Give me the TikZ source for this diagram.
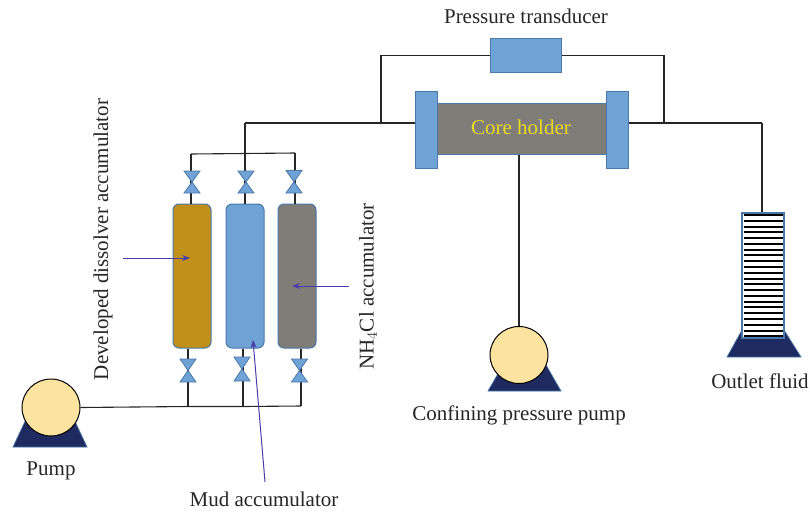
\documentclass[tikz,border=0pt]{standalone}
\usepackage{fontspec}
\setmainfont{Liberation Serif}
\usetikzlibrary{arrows.meta,shapes.geometric}
\definecolor{blockblue}{HTML}{6FA3D6}
\definecolor{blockedge}{HTML}{4A78A8}
\definecolor{oilgold}{HTML}{C0901A}
\definecolor{coregray}{HTML}{807C78}
\definecolor{pumpyellow}{HTML}{FDE3A0}
\definecolor{basenavy}{HTML}{1F2A60}
\definecolor{arrowblue}{HTML}{4B3BA8}
\definecolor{coreyellow}{HTML}{E8DC20}
\tikzset{
  pipe/.style={line width=1.1,color=black!85},
  blueblock/.style={draw=blockedge,fill=blockblue,line width=1,rectangle,inner sep=0},
  tank/.style={blueblock,rounded corners=6,minimum width=38,minimum height=144},
  valvepart/.style={draw=blockedge,fill=blockblue,line width=0.8},
  pumpbody/.style={draw=black,fill=pumpyellow,line width=1,ellipse,inner sep=0,minimum width=58,minimum height=57},
  pumpbase/.style={draw=blockedge,fill=basenavy,line width=0.7},
  pointer/.style={-{Stealth[length=8,width=6]},color=arrowblue,line width=1},
  lbl/.style={font=\fontsize{21}{24}\selectfont,color=black!85,inner sep=0},
}
\newcommand{\valve}[3]{% x, top y, bottom y
  \fill[valvepart] (#1-8,#2)--(#1+8,#2)--(#1-8,#3)--(#1+8,#3)--cycle;
}
\begin{document}
\begin{tikzpicture}[x=1pt,y=-1pt]
\useasboundingbox (0,0) rectangle (810,511);

% pipes first, blocks go on top
\coordinate (J1) at (245,123);
\coordinate (J2) at (381,123);
\coordinate (J3) at (664,123);
\coordinate (J4) at (762,123);
\coordinate (BL) at (191,154);
\coordinate (BM) at (245,153.5);
\coordinate (BR) at (295,153);
\coordinate (LL) at (188,406.5);
\coordinate (LM) at (243,406.5);
\coordinate (LR) at (301,406);

% core holder
\node[blueblock,minimum width=22,minimum height=77] (flangeL) at (426,129.5) {};
\node[blueblock,minimum width=22,minimum height=77] (flangeR) at (617,129.5) {};
\node[blueblock,fill=coregray,minimum width=169,minimum height=51] (core) at (521.5,128.5) {};
\node[lbl,color=coreyellow] (corelabel) at (521,127) {Core holder};

\node[blueblock,minimum width=71,minimum height=33] (transducer) at (525.5,55.5) {};
\node[lbl] (transducerlabel) at (526,16) {Pressure transducer};

\draw[pipe] (transducer.west)-|(J2);
\draw[pipe] (transducer.east)-|(J3);
\draw[pipe] (J1)--(J2)--(flangeL.west|-J2);
\draw[pipe] (flangeR.east|-J3)--(J3)--(J4);

% accumulators
\node[tank,fill=oilgold] (tankA) at (192,276) {};
\node[tank] (tankB) at (245,276) {};
\node[tank,fill=coregray] (tankC) at (297,276) {};

\draw[pipe] (BL)--(BM)--(BR);
\draw[pipe] (J1)--(BM)--(tankB.north);
\draw[pipe] (BL)--(tankA.north-|BL);
\draw[pipe] (BR)--(tankC.north-|BR);
\draw[pipe] (tankA.south-|LL)--(LL);
\draw[pipe] (tankB.south-|LM)--(LM);
\draw[pipe] (tankC.south-|LR)--(LR);

\valve{192}{171}{193}
\valve{246}{171}{193}
\valve{294}{170.5}{193}
\valve{188}{359}{382}
\valve{242}{357}{381}
\valve{299.5}{359}{382}

% pump
\fill[pumpbase] (13,447)--(87,447)--(72,415)--(28,415)--cycle;
\node[pumpbody] (pump) at (51,407.5) {};
\node[lbl] (pumplabel) at (51,471) {Pump};
\draw[pipe] (pump.east)--(LL)--(LM)--(LR);

% confining pressure pump
\fill[pumpbase] (488,391)--(561,391)--(546,365)--(503,365)--cycle;
\node[pumpbody] (confining) at (519,355) {};
\node[lbl] (confininglabel) at (519,415) {Confining pressure pump};
\draw[pipe] (core.south-|confining.north)--(confining.north);

% outlet fluid
\fill[pumpbase] (727,357)--(801,357)--(784,330)--(742,330)--cycle;
\node[blueblock,fill=white,line width=1.2,minimum width=42,minimum height=125] (tube) at (763,275.5) {};
\foreach \i in {0,...,21}
  \draw[line width=2] (743.5,215+5.78*\i)--(782.5,215+5.78*\i);
\draw[pipe] (J4)--(tube.north-|J4);
\node[lbl] (outletlabel) at (760,381) {Outlet fluid};

% labels with pointers
\node[lbl,rotate=90] (dissolverlabel) at (103,239.5) {Developed dissolver accumulator};
\node[lbl,rotate=90] (nhlabel) at (368,286.5) {NH$_4$Cl accumulator};
\node[lbl] (mudlabel) at (264,499) {Mud accumulator};
\coordinate (PA) at (123,258);
\coordinate (PC) at (349,286);
\coordinate (PB) at (265,482);
\draw[pointer] (PA)--(190,258);
\draw[pointer] (PC)--(292,286);
\draw[pointer] (PB)--(253,340);

\end{tikzpicture}
\end{document}
